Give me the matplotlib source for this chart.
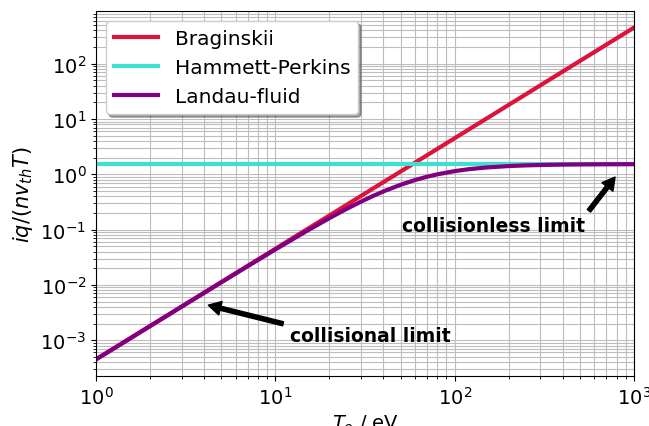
import numpy as np
import matplotlib
matplotlib.use("Agg")
import matplotlib.pyplot as plt

# electron temperature (eV)
T_brag = [1, 1000]
q_brag = [4.5e-4, 450.0]

T_hp = [1, 1000]
q_hp = [1.53, 1.53]

T_lf = [1, 2, 3, 5, 7, 10, 15, 20, 25, 30, 35, 40, 50, 60, 70, 80, 100,
        120, 150, 200, 250, 300, 400, 500, 700, 1000]
q_lf = [4.5e-4, 1.798e-3, 4.04e-3, 0.01117, 0.02174, 0.0437, 0.0950, 0.161,
        0.2375, 0.320, 0.405, 0.490, 0.648, 0.787, 0.903, 0.999, 1.142,
        1.238, 1.329, 1.410, 1.451, 1.474, 1.498, 1.509, 1.519, 1.525]

plt.rcParams.update({'font.size': 14})

fig, ax = plt.subplots(figsize=(6.49, 4.27), dpi=100)
fig.subplots_adjust(left=96/649, right=634/649, top=1-12/427, bottom=1-377/427)

ax.plot(T_brag, q_brag, color='crimson', lw=3, label='Braginskii')
ax.plot(T_hp, q_hp, color='turquoise', lw=3, label='Hammett-Perkins')
ax.plot(T_lf, q_lf, color='purple', lw=3, label='Landau-fluid')

ax.set_xscale('log')
ax.set_yscale('log')
ax.set_xlim(1, 1000)
ax.grid(True, which='both', color='#bdbdbd', lw=0.8)
ax.set_axisbelow(True)

ax.set_xlabel('$T_e$ / eV')
ax.set_ylabel('$iq/(nv_{th}T)$', fontsize=15)

arrow = dict(facecolor='black', edgecolor='black', shrink=0.05,
             width=3, headwidth=10, headlength=9)
ax.annotate('collisional limit', xy=(4.0, 4.5e-3), xytext=(12.1, 1.24e-3),
            fontsize=13.5, fontweight='bold', va='center', ha='left',
            arrowprops=arrow)
ax.annotate('collisionless limit', xy=(800, 0.97), xytext=(51, 0.121),
            fontsize=13.5, fontweight='bold', va='center', ha='left',
            arrowprops=arrow)

ax.legend(loc='upper left', shadow=True, fancybox=True, fontsize=14.5,
          handlelength=2.2)

plt.savefig('out.png', dpi=100)
